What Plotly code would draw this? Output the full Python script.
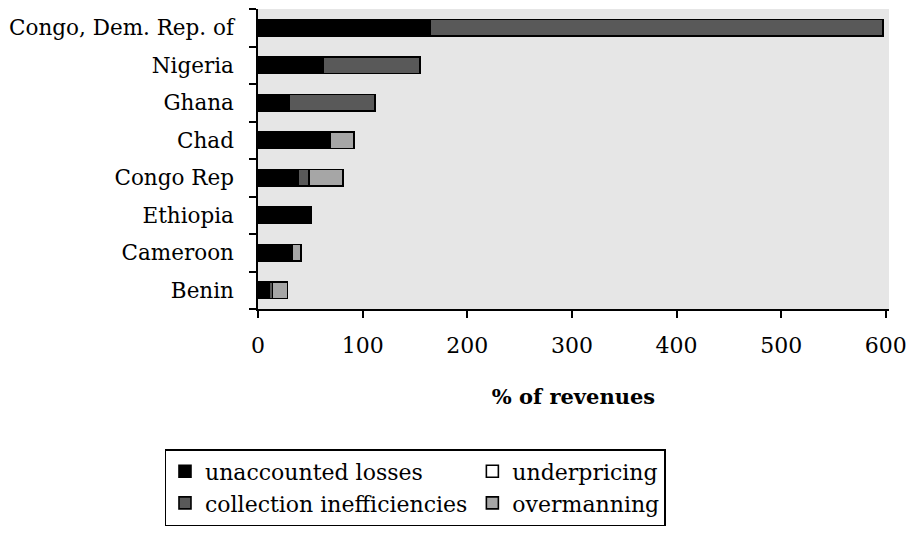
import plotly.graph_objects as go

countries = ["Congo, Dem. Rep. of", "Nigeria", "Ghana", "Chad", "Congo Rep",
             "Ethiopia", "Cameroon", "Benin"]
unaccounted = [165, 62, 30, 69, 38, 51, 33, 11]
underpricing = [None, None, None, None, None, None, None, None]
collection = [432, 93, 82, 0, 11, 0, 0, 3]
overmanning = [0, 0, 0, 23, 32, 0, 8, 14]

FONT = "DejaVu Serif"

series = [
    ("unaccounted losses", unaccounted, "#000000", "g1"),
    ("underpricing", underpricing, "#ffffff", "g2"),
    ("collection inefficiencies", collection, "#595959", "g1"),
    ("overmanning", overmanning, "#a6a6a6", "g2"),
]

fig = go.Figure()
for name, vals, color, grp in series:
    fig.add_trace(go.Bar(
        y=countries, x=vals, name=name, orientation="h",
        legendgroup=grp,
        marker=dict(color=color, line=dict(color="black", width=1.6)),
    ))

fig.update_layout(
    width=911, height=539,
    margin=dict(l=258, r=22, t=9, b=230, autoexpand=False),
    barmode="stack", bargap=0.55,
    plot_bgcolor="#e6e6e6", paper_bgcolor="white",
    font=dict(family=FONT, size=22, color="black"),
    legend=dict(
        orientation="h", traceorder="grouped", tracegroupgap=0,
        x=-0.1474, xanchor="left", y=-0.4667, yanchor="top",
        bordercolor="black", borderwidth=1.5,
        font=dict(family=FONT, size=22),
        itemclick=False,
    ),
)
fig.update_xaxes(
    range=[0, 603], tickvals=[0, 100, 200, 300, 400, 500, 600],
    showgrid=False, zeroline=False, automargin=False,
    showline=True, linecolor="black", linewidth=1.5,
    ticks="outside", ticklen=7, tickwidth=1.5, tickcolor="black",
    ticklabelstandoff=9,
    title=dict(text="<b>% of revenues</b>", standoff=32, font=dict(size=21)),
)
fig.update_yaxes(
    categoryorder="array", categoryarray=countries[::-1],
    showgrid=False, showline=True, linecolor="black", linewidth=1.5,
    automargin=False, tickfont=dict(size=21.5),
    ticks="outside", tickson="boundaries", ticklen=7, tickwidth=1.5,
    tickcolor="black", ticklabelstandoff=18,
)

# drop the default page margin so the figure sits at the window's corner
fig.write_html(
    "out.html",
    config={"displayModeBar": False},
    post_script="document.body.style.margin='0';"
                "document.body.style.overflow='hidden';",
)
